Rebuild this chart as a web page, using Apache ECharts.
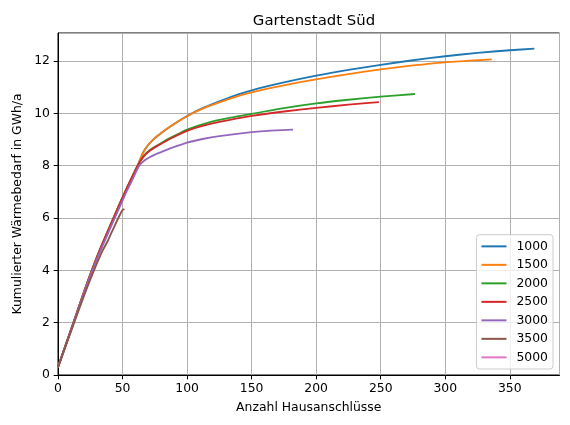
<!DOCTYPE html>
<html>
<head>
<meta charset="utf-8">
<script src="https://cdn.jsdelivr.net/npm/echarts@6/dist/echarts.min.js"></script>
<style>
  html, body { margin: 0; padding: 0; background: #fff; }
  #chart { width: 570px; height: 425px; }
</style>
</head>
<body>
<div id="chart"></div>
<script>
// Kumulierter Waermebedarf je Grenzwert, Punkte [Hausanschluesse, GWh/a]
var names = ['1000', '1500', '2000', '2500', '3000', '3500', '5000'];
var colors = ['#1f77b4', '#ff7f0e', '#2ca02c', '#d62728', '#9467bd', '#8c564b', '#e377c2'];

var s1000 = [[0,0.3],[12,2],[20,3.15],[26,3.97],[33,4.85],[43,6],[52,7],[61.7,8],[64,8.28],[66.5,8.55],[70,8.8],[75,9.05],[80,9.25],[87,9.5],[100,9.9],[112,10.2],[125,10.46],[137,10.68],[150,10.88],[175,11.18],[200,11.44],[225,11.66],[250,11.85],[275,12.03],[300,12.18],[325,12.31],[350,12.41],[369,12.47]];
var s1500 = [[0,0.3],[12,2],[20,3.15],[26,3.97],[33,4.85],[43,6],[52,7],[61.7,8],[64,8.28],[66.5,8.55],[70,8.8],[75,9.05],[80,9.25],[87,9.5],[100,9.89],[112,10.18],[125,10.42],[137,10.62],[150,10.8],[175,11.07],[200,11.3],[225,11.5],[250,11.68],[275,11.83],[300,11.95],[325,12.03],[336,12.06]];
var s2000 = [[0,0.3],[12,2],[20,3.15],[26,3.97],[33,4.85],[43,6],[52,7],[61.5,7.98],[63.5,8.15],[66,8.35],[70,8.55],[75,8.72],[79,8.84],[87,9.06],[100,9.38],[112,9.58],[125,9.75],[150,9.98],[175,10.2],[200,10.38],[225,10.52],[250,10.64],[276.5,10.74]];
var s2500 = [[0,0.3],[12,2],[20,3.15],[26,3.97],[33,4.85],[43,6],[52,7],[61.5,7.98],[63.5,8.15],[66,8.33],[70,8.53],[75,8.7],[79,8.81],[87,9.03],[100,9.33],[112,9.52],[125,9.67],[150,9.9],[175,10.07],[200,10.21],[225,10.33],[248.6,10.43]];
var s3000 = [[0,0.3],[12,1.98],[20,3.12],[26.3,3.95],[33.5,4.82],[44,6],[52.5,6.95],[57,7.4],[60,7.72],[62,7.92],[64,8.07],[67,8.2],[71,8.32],[75,8.42],[80,8.52],[87,8.66],[100,8.88],[112,9.02],[125,9.13],[150,9.28],[165,9.34],[182,9.38]];
var s3500 = [[0,0.3],[12.3,1.97],[20.7,3.1],[27.5,3.95],[34.5,4.75],[38.5,5.12],[42,5.5],[46.7,6],[49.5,6.27],[50.6,6.33],[51.5,6.33]];
var s5000 = [[0,0.3]];

var seriesData = [s1000, s1500, s2000, s2500, s3000, s3500, s5000];

var chart = echarts.init(document.getElementById('chart'), null, { renderer: 'canvas' });

var series = [];
for (var i = 0; i < names.length; i++) {
    series.push({
        name: names[i],
        type: 'line',
        data: seriesData[i],
        symbol: 'none',
        smooth: 0.2,
        color: colors[i],
        lineStyle: { width: 1.85, color: colors[i] }
    });
}

var font = 'DejaVu Sans';

var option = {
    animation: false,
    backgroundColor: '#fff',
    textStyle: { fontFamily: font },
    title: {
        text: 'Gartenstadt Süd',
        left: 309,
        textAlign: 'center',
        top: 9,
        textStyle: { fontFamily: font, fontSize: 14.9, fontWeight: 'normal', color: '#000' }
    },
    grid: {
        left: 58,
        right: 10.5,
        top: 33,
        bottom: 50,
        show: true,
        borderColor: '#000',
        borderWidth: 1,
        containLabel: false
    },
    legend: {
        orient: 'vertical',
        right: 17,
        bottom: 56,
        icon: 'rect',
        itemWidth: 25,
        itemHeight: 2,
        itemGap: 6.2,
        padding: [5.5, 5, 5.5, 5],
        backgroundColor: 'rgba(255,255,255,0.8)',
        borderColor: '#cccccc',
        borderWidth: 1,
        borderRadius: 3,
        textStyle: { fontFamily: font, fontSize: 12.4, color: '#000', lineHeight: 12.3, padding: [0, 0, 0, 5] },
        data: names
    },
    xAxis: {
        type: 'value',
        min: 0,
        max: 388.5,
        interval: 50,
        name: 'Anzahl Hausanschlüsse',
        nameLocation: 'middle',
        nameGap: 27,
        nameTextStyle: { fontFamily: font, fontSize: 12.4, color: '#000' },
        axisLine: { onZero: false, lineStyle: { color: '#000', width: 1 } },
        axisTick: { show: true, inside: false, length: 4.3, lineStyle: { color: '#000' } },
        axisLabel: {
            showMaxLabel: false,
            margin: 8,
            fontFamily: font, fontSize: 12.4, color: '#000',
            formatter: function (v) { return v % 50 === 0 ? String(v) : ''; }
        },
        splitLine: { show: true, lineStyle: { color: '#b0b0b0', width: 1 } }
    },
    yAxis: {
        type: 'value',
        min: 0,
        max: 13.07,
        interval: 2,
        name: 'Kumulierter Wärmebedarf in GWh/a',
        nameLocation: 'middle',
        nameGap: 27,
        nameTextStyle: { fontFamily: font, fontSize: 12.4, color: '#000' },
        axisLine: { onZero: false, lineStyle: { color: '#000', width: 1 } },
        axisTick: { show: true, inside: false, length: 4.3, lineStyle: { color: '#000' } },
        axisLabel: {
            showMaxLabel: false,
            margin: 8,
            fontFamily: font, fontSize: 12.4, color: '#000',
            formatter: function (v) { return v % 2 === 0 ? String(v) : ''; }
        },
        splitLine: { show: true, lineStyle: { color: '#b0b0b0', width: 1 } }
    },
    series: series
};

chart.setOption(option);
</script>
</body>
</html>
